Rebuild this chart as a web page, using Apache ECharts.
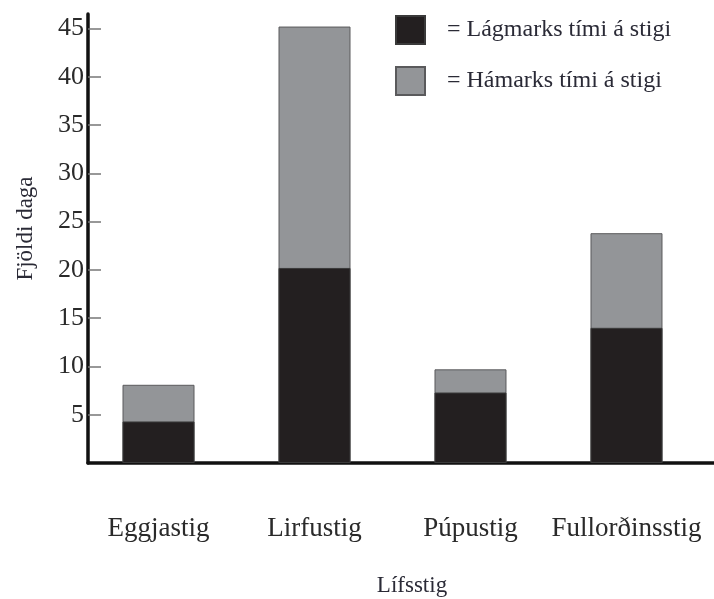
<!DOCTYPE html>
<html>
<head>
<meta charset="utf-8">
<script src="https://cdn.jsdelivr.net/npm/echarts@6/dist/echarts.min.js"></script>
<style>
  html, body { margin: 0; padding: 0; background: #fff; }
  #chart { width: 714px; height: 599px; }
</style>
</head>
<body>
<div id="chart"></div>
<script>
// lífsstig (flokkar)
const stages = ['Eggjastig', 'Lirfustig', 'Púpustig', 'Fullorðinsstig'];
// lágmarks tími á stigi (dagar)
const minDays = [4.3, 20.2, 7.3, 14.0];
// hámarks tími á stigi (dagar)
const maxDays = [8.1, 45.2, 9.7, 23.8];
const yTicks = [5, 10, 15, 20, 25, 30, 35, 40, 45];
const stagePos = [0, 1, 2, 3];

const serif = '"Liberation Serif", "DejaVu Serif", serif';
const chart = echarts.init(document.getElementById('chart'));

chart.setOption({
    backgroundColor: '#fff',
    animation: false,
    textStyle: { fontFamily: serif },
    legend: {
        orient: 'vertical',
        left: 395,
        top: 15,
        padding: 0,
        itemWidth: 29,
        itemHeight: 28,
        itemGap: 21,
        icon: 'rect',
        textStyle: { fontFamily: serif, fontSize: 24, color: '#2a2a36', padding: [0, 0, 0, 17] },
        data: ['= Lágmarks tími á stigi', '= Hámarks tími á stigi']
    },
    grid: { left: 88, right: 0, top: 14, bottom: 136, outerBoundsMode: 'none', containLabel: false },
    xAxis: {
        type: 'value',
        min: -0.452,
        max: 3.561,
        name: 'Lífsstig',
        nameLocation: 'middle',
        nameGap: 111,
        nameTextStyle: { fontFamily: serif, fontSize: 23, color: '#2a2a36', padding: [0, 0, 0, 22] },
        axisLine: { onZero: false, lineStyle: { color: '#111', width: 3.5 } },
        axisTick: { show: false },
        splitLine: { show: false },
        axisLabel: {
            customValues: stagePos,
            formatter: v => stages[Math.round(v)],
            fontFamily: serif,
            fontSize: 27,
            color: '#2a2a2a',
            margin: 52
        }
    },
    yAxis: {
        type: 'value',
        min: 0,
        max: 46.5,
        name: 'Fjöldi daga',
        nameLocation: 'middle',
        nameGap: 51,
        nameTextStyle: { fontFamily: serif, fontSize: 23, color: '#2a2a36', padding: [0, 0, 0, 20] },
        axisLine: { show: true, onZero: false, lineStyle: { color: '#111', width: 3.5 } },
        axisTick: { show: true, inside: true, length: 13, customValues: yTicks, lineStyle: { color: '#777', width: 1.5 } },
        splitLine: { show: false },
        axisLabel: {
            customValues: yTicks,
            fontFamily: serif,
            fontSize: 26,
            color: '#2a2a2a',
            margin: 4
        }
    },
    series: [
        {
            // hámarks tími teiknaður fyrst, lágmark ofan á
            name: '= Hámarks tími á stigi',
            type: 'bar',
            barWidth: 72,
            barGap: '-100%',
            itemStyle: { color: '#939598', borderColor: '#5a5a5c', borderWidth: 1 },
            data: stagePos.map((x, i) => [x, maxDays[i]])
        },
        {
            name: '= Lágmarks tími á stigi',
            type: 'bar',
            barWidth: 72,
            barGap: '-100%',
            itemStyle: { color: '#231f20', borderColor: '#3a3a3a', borderWidth: 1 },
            data: stagePos.map((x, i) => [x, minDays[i]])
        }
    ]
});
</script>
</body>
</html>
